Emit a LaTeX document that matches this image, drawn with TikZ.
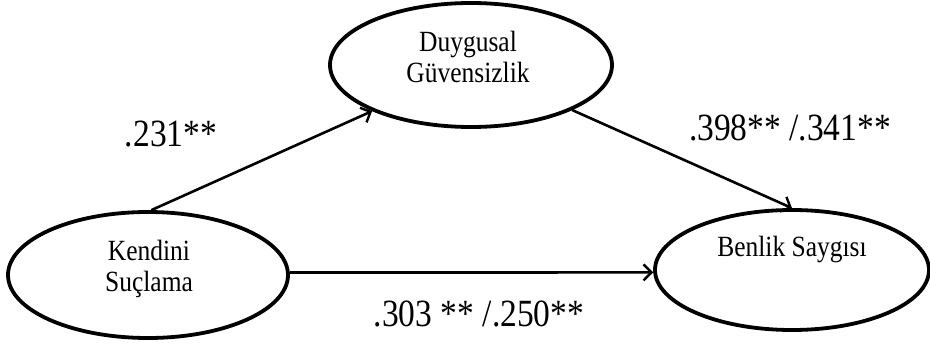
\documentclass[tikz,border=0pt]{standalone}
\usepackage{fontspec}
\setmainfont{Liberation Serif}
\usetikzlibrary{shapes.geometric,arrows.meta}
\newcommand\tallt[1]{\scalebox{1}[1.15]{\begin{tabular}{@{}c@{}}#1\end{tabular}}}
\begin{document}
\begin{tikzpicture}[x=1pt,y=1pt,
  latent/.style={draw=black, line width=3.8pt, ellipse, inner sep=0pt},
  intext/.style={font=\fontsize{25.5}{27}\selectfont, inner sep=0pt},
  coef/.style={font=\fontsize{33.5}{38}\selectfont, inner sep=0pt},
  path/.style={line width=2.6pt, -{Straight Barb[length=8pt,width=16pt,line width=2.4pt]}}]
\useasboundingbox (0,0) rectangle (930,349);
\node[latent, minimum width=282pt, minimum height=124pt] (T) at (471,284) {};
\node[latent, minimum width=280pt, minimum height=126pt] (L) at (148,74) {};
\node[latent, minimum width=274pt, minimum height=120pt] (R) at (792,79) {};
\node[intext] (Ttxt) at (468,288) {\tallt{Duygusal\\Güvensizlik}};
\node[intext] (Ltxt) at (149,79) {\tallt{Kendini\\Suçlama}};
\node[intext] (Rtxt) at (792,99) {\tallt{Benlik Saygısı}};
\draw[path] (L.87) -- (T.205);
\draw[path] (T.-24) -- (R.90);
\draw[path] (L.1) -- (R.181);
\node[coef] (c1) at (171,211) {\tallt{.231**}};
\node[coef] (c2) at (790,217) {\tallt{.398** /.341**}};
\node[coef] (c3) at (479,31) {\tallt{.303 ** /.250**}};
\end{tikzpicture}
\end{document}
